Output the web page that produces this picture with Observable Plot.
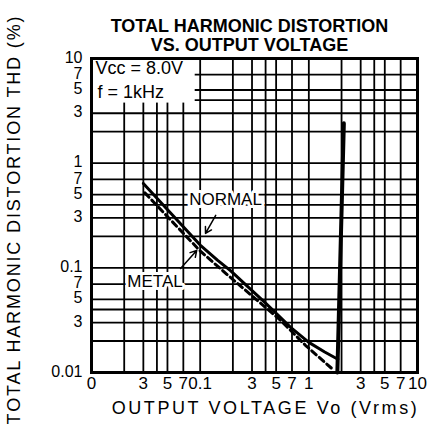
<!DOCTYPE html>
<html><head><meta charset="utf-8">
<script src="https://cdn.jsdelivr.net/npm/d3@7"></script>
<script src="https://cdn.jsdelivr.net/npm/@observablehq/plot@0.6"></script>
<style>
body{margin:0;background:#fff}
</style>
</head><body><div id="chart"></div>
<script>
// Tick positions and labels
const xTicks = [0.01,0.03,0.05,0.07,0.1,0.3,0.5,0.7,1,3,5,7,10];
const xTickLabels = ["0","3","5","7","0.1","3","5","7","1","3","5","7","10"];
const yTicks = [0.01,0.03,0.05,0.07,0.1,0.3,0.5,0.7,1,3,5,7,10];
const yTickLabels = ["0.01","3","5","7","0.1","3","5","7","1","3","5","7","10"];
// Grid lines (1,2,3,4,5,7 per decade)
const gridValues = [0.02,0.03,0.04,0.05,0.07,0.1,0.2,0.3,0.4,0.5,0.7,1,2,3,4,5,7];

// Series: NORMAL (solid)
const normalX = [0.03, 0.1, 0.145, 0.19, 0.4, 0.68, 1.0, 1.4, 1.85];
const normalY = [0.64, 0.165, 0.118, 0.094, 0.046, 0.027, 0.0194, 0.0157, 0.0134];
// Series: METAL (dashed)
const metalX = [0.031, 0.1, 0.18, 0.55, 0.93, 1.7];
const metalY = [0.52, 0.145, 0.085, 0.0315, 0.0182, 0.0105];
// Clipping rise
const clipX = [1.83, 2.1];
const clipY = [0.01, 2.4];

// Annotations
const labelText = ["NORMAL", "METAL"];
const labelX = [0.171, 0.0384];
const labelY = [0.45, 0.0741];
const arrowX1 = [0.139, 0.066];
const arrowY1 = [0.317, 0.0986];
const arrowX2 = [0.112, 0.093];
const arrowY2 = [0.213, 0.1466];
// blank panel behind the test-condition note (data units)
const noteBoxX = [0.01, 0.09];
const noteBoxY = [3.75, 10];

const title1 = "TOTAL HARMONIC DISTORTION";
const title2 = "VS. OUTPUT VOLTAGE";
const xTitle = "OUTPUT VOLTAGE Vo (Vrms)";
const yTitle = "TOTAL HARMONIC DISTORTION THD (%)";
const cond1 = "Vcc = 8.0V";
const cond2 = "f = 1kHz";

const xLab = new Map(xTicks.map((v,i)=>[v,xTickLabels[i]]));
const yLab = new Map(yTicks.map((v,i)=>[v,yTickLabels[i]]));
const normal = normalX.map((x,i)=>({x, y: normalY[i]}));
const metal = metalX.map((x,i)=>({x, y: metalY[i]}));
const clip = clipX.map((x,i)=>({x, y: clipY[i]}));
const labels = labelText.map((t,i)=>({t, x: labelX[i], y: labelY[i]}));
const arrows = arrowX1.map((x1,i)=>({x1, y1: arrowY1[i], x2: arrowX2[i], y2: arrowY2[i]}));
const noteBox = [{x1: noteBoxX[0], x2: noteBoxX[1], y1: noteBoxY[0], y2: noteBoxY[1]}];

const font = "'Liberation Sans', Arial, Helvetica, sans-serif";

const chart = Plot.plot({
  width: 437, height: 434,
  marginLeft: 91, marginRight: 20, marginTop: 58, marginBottom: 62,
  style: {fontFamily: font, fontSize: "17px", color: "#000", background: "#fff"},
  x: {type: "log", domain: [0.01, 10], axis: null},
  y: {type: "log", domain: [0.01, 10], axis: null},
  marks: [
    Plot.ruleX(gridValues, {stroke: "#000", strokeWidth: 1.8}),
    Plot.ruleY(gridValues, {stroke: "#000", strokeWidth: 1.8}),
    Plot.rect(noteBox, {x1: "x1", x2: "x2", y1: "y1", y2: "y2", fill: "#fff"}),
    Plot.text(xTicks, {x: d => d, text: d => xLab.get(d), frameAnchor: "bottom", lineAnchor: "top", dy: 4, fontSize: 17, fill: "#000"}),
    Plot.text(yTicks, {y: d => d, text: d => yLab.get(d), frameAnchor: "left", textAnchor: "end", dx: -9, dy: -1, fontSize: 16, fill: "#000"}),
    Plot.text([cond1], {frameAnchor: "top-left", textAnchor: "start", lineAnchor: "top", dx: 4, dy: 3, fontSize: 18, fill: "#000", stroke: "#fff", strokeWidth: 7}),
    Plot.text([cond2], {frameAnchor: "top-left", textAnchor: "start", lineAnchor: "top", dx: 6, dy: 27, fontSize: 18, fill: "#000", stroke: "#fff", strokeWidth: 7}),
    Plot.line(clip, {x: "x", y: "y", stroke: "#000", strokeWidth: 4}),
    Plot.line(metal, {x: "x", y: "y", stroke: "#000", strokeWidth: 3, strokeDasharray: "6,4"}),
    Plot.line(normal, {x: "x", y: "y", stroke: "#000", strokeWidth: 3}),
    Plot.text(labels, {x: "x", y: "y", text: "t", fontSize: 17, fill: "#000", stroke: "#fff", strokeWidth: 6}),
    Plot.arrow(arrows, {x1: "x1", y1: "y1", x2: "x2", y2: "y2", stroke: "#000", strokeWidth: 1.5, headLength: 7}),
    Plot.frame({stroke: "#000", strokeWidth: 3}),
    Plot.text([title1], {frameAnchor: "top", dx: -5, dy: -38.8, fontSize: 18, fontWeight: "bold", fill: "#000"}),
    Plot.text([title2], {frameAnchor: "top", dx: -5, dy: -19.8, fontSize: 18, fontWeight: "bold", fill: "#000"}),
    Plot.text([xTitle], {frameAnchor: "bottom", dx: 11, dy: 41, fontSize: 18, fill: "#000"}),
    Plot.text([yTitle], {frameAnchor: "left", textAnchor: "middle", rotate: -90, dx: -77, dy: 4, fontSize: 18, fill: "#000"})
  ]
});
// widen the tracking of the two axis titles, as in the reference
chart.querySelectorAll("text").forEach(t => {
  if (t.textContent === xTitle) t.style.letterSpacing = "2.6px";
  if (t.textContent === yTitle) t.style.letterSpacing = "1.85px";
});
document.getElementById("chart").appendChild(chart);
</script>
</body></html>
